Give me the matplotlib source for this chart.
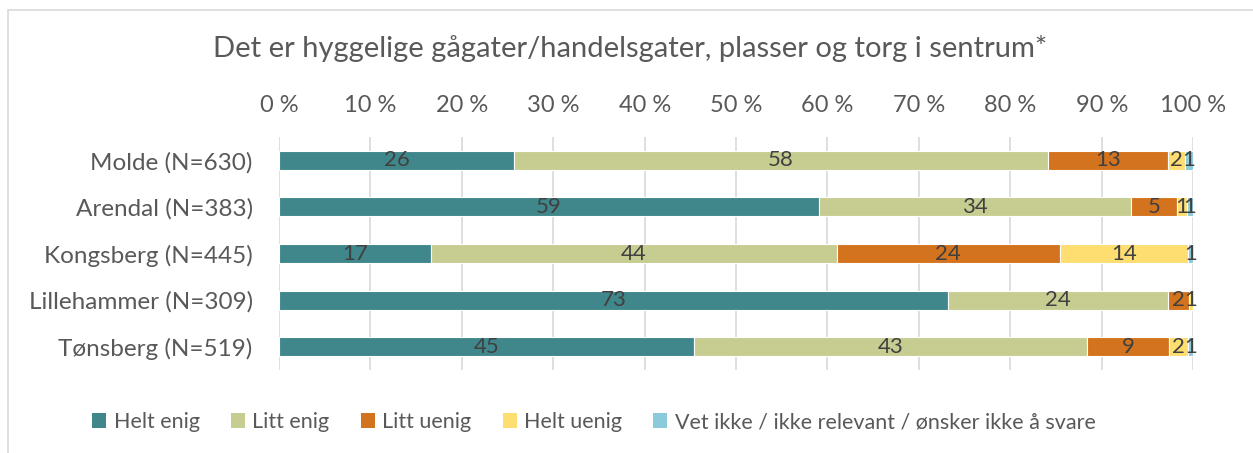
import numpy as np
import matplotlib
matplotlib.use("Agg")
import matplotlib.pyplot as plt
from matplotlib.patches import Patch, Rectangle

plt.rcParams['font.family'] = ['Lato', 'DejaVu Sans']

# data (percent)
cities = ["Molde (N=630)", "Arendal (N=383)", "Kongsberg (N=445)",
          "Lillehammer (N=309)", "Tønsberg (N=519)"]
categories = ["Helt enig", "Litt enig", "Litt uenig", "Helt uenig",
              "Vet ikke / ikke relevant / ønsker ikke å svare"]
helt_enig = [25.7, 59.1, 16.6, 73.2, 45.4]
litt_enig = [58.4, 34.1, 44.4, 24.1, 43.0]
litt_uenig = [13.2, 5.0, 24.4, 2.2, 9.0]
helt_uenig = [1.8, 1.1, 14.0, 0.6, 2.0]
vet_ikke = [0.9, 0.7, 0.6, 0.0, 0.6]
xticks = [0, 10, 20, 30, 40, 50, 60, 70, 80, 90, 100]

series = [helt_enig, litt_enig, litt_uenig, helt_uenig, vet_ikke]
colors = ["#40878B", "#C7CD91", "#D4731D", "#FEDE70", "#8BCADB"]
txt_gray = "#595959"

fig = plt.figure(figsize=(12.53, 4.53), dpi=100)
ax = fig.add_axes([0.2227, 0.1832, 0.7295, 0.5143])

y = np.arange(len(cities))
left = np.zeros(len(cities))
for vals, col, name in zip(series, colors, categories):
    vals = np.array(vals)
    bars = ax.barh(y, vals, left=left, height=0.41, color=col,
                   edgecolor="white", linewidth=0.8, label=name, zorder=3)
    labels = [f"{v:.0f}" if v > 0 else "" for v in vals]
    ax.bar_label(bars, labels=labels, label_type="center", fontsize=16,
                 color="#404040")
    left += vals

ax.set_xlim(0, 100)
ax.set_ylim(len(cities) - 0.5, -0.5)
ax.set_yticks(y)
ax.set_yticklabels(cities, fontsize=17.5, color=txt_gray)
ax.set_xticks(xticks)
ax.set_xticklabels([f"{t} %" for t in xticks], fontsize=17, color=txt_gray)
ax.xaxis.tick_top()
ax.tick_params(axis="y", length=0, pad=19)
ax.tick_params(axis="x", length=0, pad=15)
ax.grid(axis="x", color="#D9D9D9", linewidth=1.2, zorder=0)
for s in ax.spines.values():
    s.set_visible(False)

fig.text(0.503, 0.893, "Det er hyggelige gågater/handelsgater, plasser og torg i sentrum*",
         ha="center", va="center", fontsize=21, color=txt_gray)

handles = [Patch(facecolor=c, label=n) for c, n in zip(colors, categories)]
fig.legend(handles=handles, loc="center", bbox_to_anchor=(0.474, 0.068), ncol=5,
           frameon=False, fontsize=15.5, handlelength=0.65, handleheight=0.65,
           handletextpad=0.35, columnspacing=1.45, labelcolor=txt_gray)

# outer chart border (top and left edges visible)
fig.patches.append(Rectangle((8 / 1253, -0.1), 1.2, 1 - 10 / 453 + 0.1,
                             transform=fig.transFigure, fill=False,
                             edgecolor="#D9D9D9", linewidth=1.2))

fig.savefig("out.png", dpi=100)
